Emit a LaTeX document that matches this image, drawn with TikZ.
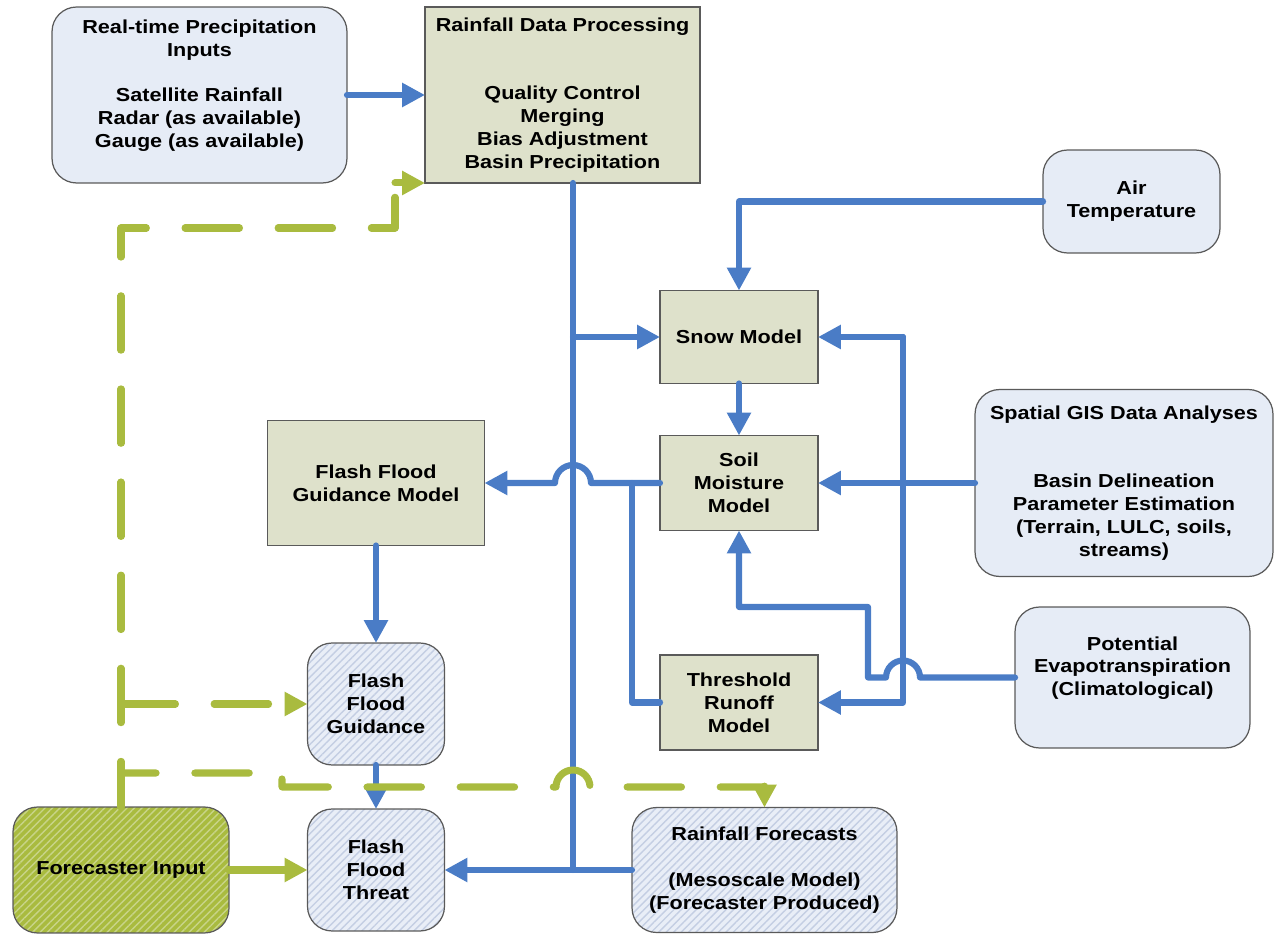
\documentclass[tikz,border=0pt]{standalone}
\usepackage{fontspec}
\setmainfont{Liberation Sans}[FakeStretch=1.15]
\usetikzlibrary{arrows.meta,calc,patterns.meta}

\definecolor{flowblue}{HTML}{4A7CC6}
\definecolor{fcgreen}{HTML}{A9BB3F}
\definecolor{fcstripe}{HTML}{C8D488}
\definecolor{procfill}{HTML}{DEE1CB}
\definecolor{inputfill}{HTML}{E6ECF6}
\definecolor{hatchbg}{HTML}{E9EEF7}
\definecolor{hatchln}{HTML}{C4CEE3}
\definecolor{boxedge}{HTML}{5A5A5A}

\tikzset{
  box/.style={draw=boxedge, line width=0.7pt, inner sep=0pt, outer sep=0pt,
    align=center, font=\bfseries\fontsize{10.7pt}{13pt}\selectfont},
  procbox/.style={box, fill=procfill},
  inbox/.style={box, fill=inputfill, rounded corners=14pt},
  hatchbox/.style={box, rounded corners=14pt,
    pattern={Lines[angle=45,distance=3pt,line width=0.8pt]}},
  outbox/.style={hatchbox, preaction={fill=hatchbg}, pattern color=hatchln},
  fcbox/.style={hatchbox, preaction={fill=fcgreen}, pattern color=fcstripe},
  pipe/.style={draw=flowblue, line width=3.5pt, line cap=round, line join=round},
  flow/.style={pipe, -{Triangle[length=13pt,width=13pt]}},
  fcline/.style={draw=fcgreen, line width=4pt, line cap=round, line join=round},
  fcdash/.style={fcline, dash pattern=on 31pt off 22pt},
  fcarrow/.style={fcline, -{Triangle[length=13pt,width=13pt]}}
}

\begin{document}
\begin{tikzpicture}[x=0.02cm,y=0.02cm]
\useasboundingbox (0,0) rectangle (1274,-935);

% boxes
\node[inbox, minimum width=5.9cm, minimum height=3.52cm] (rpi) at (199.5,-95)
  {Real-time Precipitation\\Inputs\\[13pt]Satellite Rainfall\\Radar (as available)\\Gauge (as available)\\~};
\node[procbox, minimum width=5.5cm, minimum height=3.52cm] (rdp) at (562.5,-95)
  {Rainfall Data Processing\\[26pt]Quality Control\\Merging\\Bias Adjustment\\Basin Precipitation};
\node[inbox, minimum width=3.54cm, minimum height=2.06cm] (air) at (1131.5,-201.5) {Air\\Temperature};
\node[procbox, minimum width=3.16cm, minimum height=1.86cm] (snow) at (739,-337) {Snow Model};
\node[inbox, minimum width=5.96cm, minimum height=3.74cm] (gis) at (1124,-483)
  {Spatial GIS Data Analyses\\[26pt]Basin Delineation\\Parameter Estimation\\(Terrain, LULC, soils,\\streams)};
\node[procbox, minimum width=4.34cm, minimum height=2.5cm] (ffgm) at (376,-483) {Flash Flood\\Guidance Model};
\node[procbox, minimum width=3.16cm, minimum height=1.9cm] (soil) at (739,-483) {Soil\\Moisture\\Model};
\node[inbox, minimum width=4.7cm, minimum height=2.82cm] (pe) at (1132.5,-677.5)
  {Potential\\Evapotranspiration\\(Climatological)\\~};
\node[procbox, minimum width=3.16cm, minimum height=1.9cm] (trm) at (739,-702.5) {Threshold\\Runoff\\Model};
\node[outbox, minimum width=2.74cm, minimum height=2.44cm] (ffg) at (376,-704) {Flash\\Flood\\Guidance};
\node[fcbox, minimum width=4.32cm, minimum height=2.52cm] (fi) at (121,-870) {Forecaster Input};
\node[outbox, minimum width=2.74cm, minimum height=2.44cm] (fft) at (376,-870) {Flash\\Flood\\Threat};
\node[outbox, minimum width=5.3cm, minimum height=2.5cm] (rf) at (764.5,-870)
  {Rainfall Forecasts\\[13pt](Mesoscale Model)\\(Forecaster Produced)};

% blue data flow
\coordinate (trunk) at (573,-183);
\coordinate (tjoin) at (632,-483);
\coordinate (gisbus) at (903,-337);
\coordinate (pebend) at (868,-607);
\draw[flow] (rpi.east) -- (rdp.west);
\draw[pipe] (trunk) -- (trunk |- fft.east);
\draw[flow] (trunk |- snow.west) -- (snow.west);
\draw[flow] (rf.west) -- (fft.east);
\draw[flow] (air.west) -| (snow.north);
\draw[flow] (snow.south) -- (soil.north);
\draw[flow] (gis.west) -- (soil.east);
\draw[flow] (gisbus) -- (snow.east);
\draw[flow] (gisbus) |- (trm.east);
\draw[flow] (soil.west) -- ($(trunk |- soil.west)+(18,0)$) arc[start angle=0,end angle=180,radius=18] -- (ffgm.east);
\draw[pipe] (trm.west) -| (tjoin);
\draw[flow] (pe.west) -- ($(gisbus |- pe.west)+(17,0)$) arc[start angle=0,end angle=180,radius=17]
  -- (pebend |- pe.west) -- (pebend) -| (soil.south);
\draw[flow] (ffgm.south) -- (ffg.north);
\draw[flow] (ffg.south) -- (fft.north);

% forecaster (green)
\coordinate (gtop) at (395,-228);
\coordinate (gmid) at (282,-773);
\coordinate (gdip) at (282,-787);
\draw[fcarrow] (fi.east) -- (fft.west);
\draw[fcdash, dash phase=5pt] (fi.north) |- (gtop) -- (gtop |- rdp.south west);
\draw[fcarrow] (gtop |- rdp.south west) -- (rdp.south west);
\draw[fcdash, -{Triangle[length=13pt,width=13pt]}] (fi.north |- ffg.west) -- (ffg.west);
\draw[fcdash, dash phase=11pt] (fi.north |- gmid) -- (gmid) -- (gdip) -- ($(gdip -| trunk)+(-17,0)$)
  arc[start angle=180,end angle=0,radius=17] -- (gdip -| rf.north);
\draw[fcarrow] (gdip -| rf.north) -- (rf.north);
\end{tikzpicture}
\end{document}
